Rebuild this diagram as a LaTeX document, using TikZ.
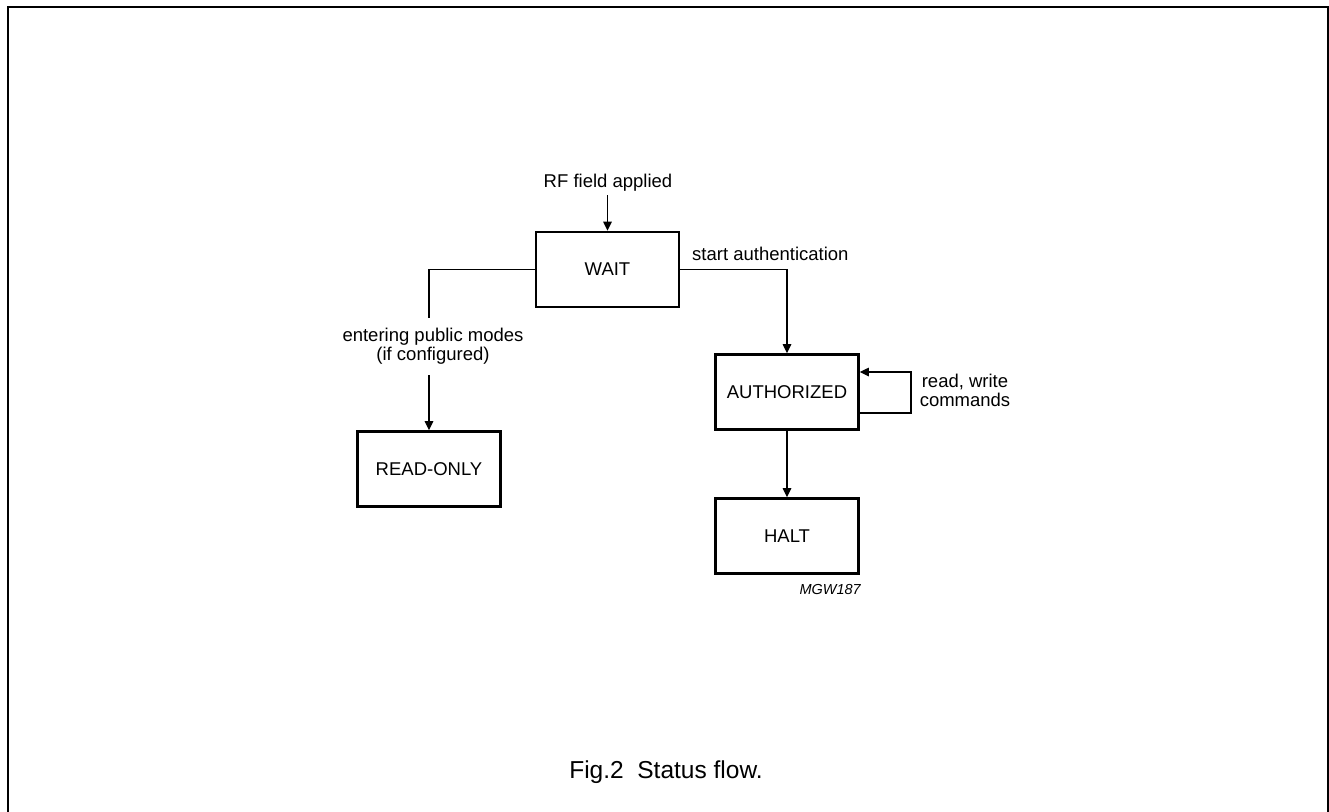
\documentclass[tikz,border=0pt]{standalone}
\usepackage{fontspec}
\setmainfont{Liberation Sans}
\usetikzlibrary{arrows.meta}
\tikzset{
  statebox/.style={draw, line width=2.7pt, minimum width=143pt, minimum height=75pt, inner sep=0pt, font=\fontsize{18.5}{22}\selectfont},
  conn/.style={line width=1.3pt},
  arr/.style={conn, -{Triangle[length=9pt,width=8.5pt]}},
  lbl/.style={inner sep=0pt, font=\fontsize{18.5}{17.5}\selectfont, align=center}
}
\begin{document}
\begin{tikzpicture}[x=1pt,y=-1pt]
\useasboundingbox (0,0) rectangle (1329,811);
\clip (0,0) rectangle (1329,811);
\fill[white] (0,0) rectangle (1329,811);
\draw[line width=2pt] (8,6.5) rectangle (1327.5,840);

\node[statebox] (wait) at (607.5,269.5) {WAIT};
\node[statebox] (auth) at (787,392) {AUTHORIZED};
\node[statebox] (halt) at (787,536) {HALT};
\node[statebox] (ro) at (429,469) {READ-ONLY};

\node[lbl, anchor=base] (rflbl) at (608,187) {RF field applied};
\coordinate (rf) at (607.5,195);
\draw[arr] (rf) -- (wait.north);

\node[lbl, anchor=base west] (salbl) at (692,260) {start authentication};
\draw[arr] (wait.east) -| (auth.north);

\node[lbl, anchor=base, font=\fontsize{18.5}{17}\selectfont] (pmlbl) at (433,360) {entering public modes\\(if configured)};
\coordinate (gaptop) at (429,318);
\coordinate (gapbot) at (429,375);
\draw[conn] (wait.west) -| (gaptop);
\draw[arr] (gapbot) -- (ro.north);

\draw[arr] ([yshift=-21pt]auth.east) -- ++(51,0) |- ([yshift=20pt]auth.east);
\node[lbl, anchor=base, font=\fontsize{18.5}{19}\selectfont] (rwlbl) at (965,406) {read, write\\commands};

\draw[arr] (auth.south) -- (halt.north);

\node[inner sep=0pt, anchor=base east, font=\fontsize{14.5}{17}\selectfont\itshape] (code) at (861,594) {MGW187};

\node[inner sep=0pt, anchor=base, font=\fontsize{24.5}{29}\selectfont] (cap) at (666,778) {Fig.2\ \ Status flow.};
\end{tikzpicture}
\end{document}
